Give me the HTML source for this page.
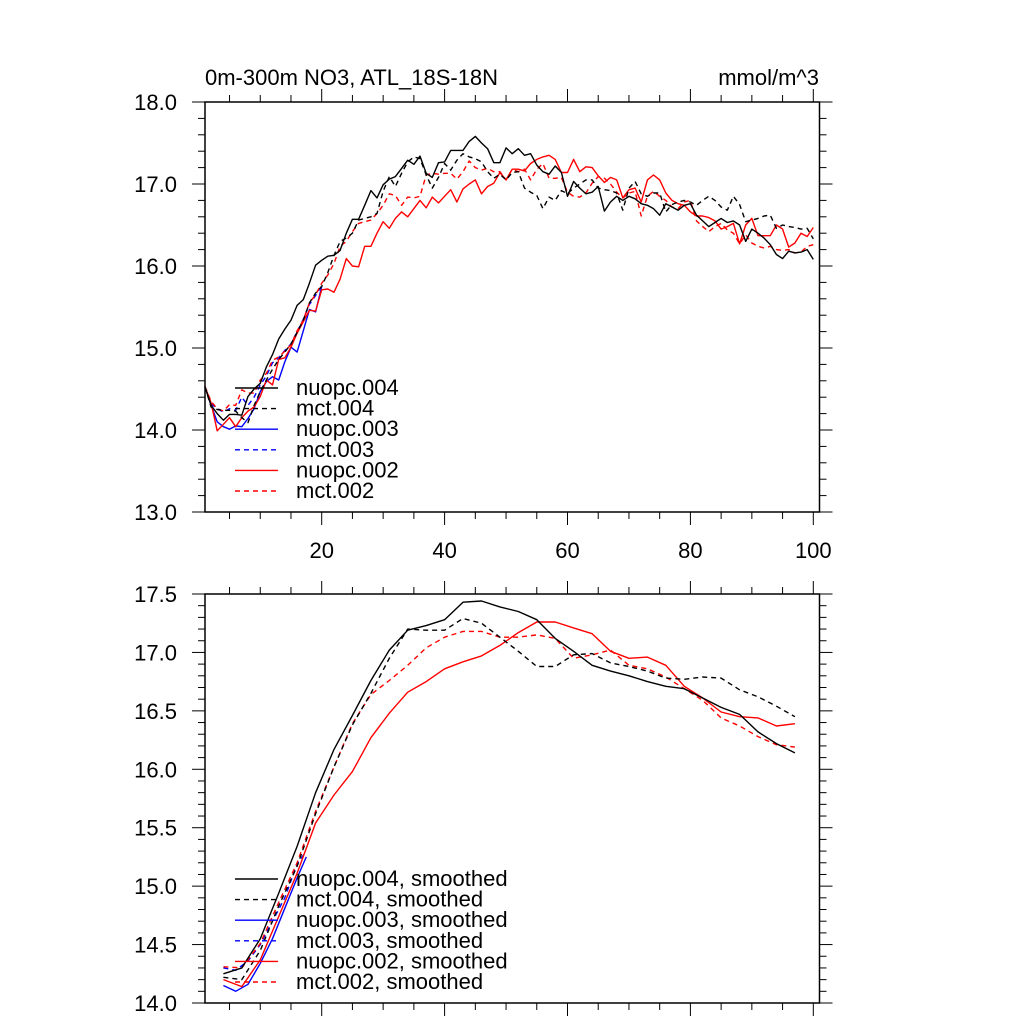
<!DOCTYPE html>
<html><head><meta charset="utf-8"><style>
body{margin:0;background:#fff;}
svg{display:block;font-family:"Liberation Sans",sans-serif;}
</style></head><body>
<svg id="chart" width="1024" height="1024" viewBox="0 0 1024 1024" xmlns="http://www.w3.org/2000/svg">
<rect width="1024" height="1024" fill="#fff"/>
<text x="205" y="85" font-size="22">0m-300m NO3, ATL_18S-18N</text>
<text x="819" y="85" font-size="22" text-anchor="end">mmol/m^3</text>
</svg>
<script>
// ---- data: top panel (raw) ----
const nuopc004 = [14.53,14.30,14.20,14.12,14.19,14.19,14.18,14.41,14.50,14.57,14.77,14.92,15.11,15.23,15.34,15.52,15.59,15.79,16.01,16.07,16.12,16.13,16.19,16.40,16.57,16.57,16.74,16.92,16.83,16.99,17.06,17.09,17.19,17.29,17.24,17.34,17.13,17.08,17.26,17.27,17.41,17.41,17.41,17.52,17.58,17.50,17.43,17.26,17.26,17.44,17.37,17.43,17.35,17.37,17.23,17.15,17.12,17.22,17.14,16.85,17.03,16.95,16.88,16.90,16.97,16.67,16.78,16.85,16.80,16.85,16.82,16.76,16.74,16.70,16.62,16.76,16.72,16.68,16.74,16.76,16.62,16.55,16.48,16.53,16.58,16.53,16.55,16.50,16.30,16.45,16.40,16.34,16.26,16.14,16.09,16.18,16.16,16.17,16.20,16.08];
const mct004 = [14.53,14.28,14.25,14.24,14.24,14.23,14.15,14.09,14.30,14.47,14.61,14.74,14.86,14.95,15.05,15.19,15.34,15.55,15.67,15.75,15.92,16.13,16.30,16.34,16.40,16.56,16.58,16.60,16.64,16.91,17.09,16.97,17.13,17.27,17.33,17.31,17.11,16.95,17.08,17.25,17.17,17.29,17.37,17.33,17.31,17.27,17.15,17.07,17.12,17.05,17.14,17.15,16.95,16.90,16.86,16.70,16.84,16.80,16.92,16.88,16.95,17.00,17.05,17.05,16.95,16.93,16.92,16.89,16.68,16.95,17.03,16.88,16.85,16.89,16.89,16.66,16.75,16.78,16.80,16.78,16.74,16.80,16.85,16.80,16.72,16.68,16.85,16.75,16.54,16.56,16.58,16.61,16.62,16.46,16.50,16.48,16.47,16.45,16.46,16.33];
const nuopc003 = [14.53,14.30,14.10,14.04,14.01,14.05,14.04,14.14,14.26,14.47,14.59,14.65,14.61,14.83,15.01,14.95,15.21,15.47,15.44,15.75];
const mct003 = [14.53,14.32,14.26,14.22,14.26,14.24,14.40,14.30,14.40,14.55,14.66,14.82,14.88,14.97,15.05,15.20,15.35,15.53,15.64,15.76];
const nuopc002 = [14.53,14.33,13.99,14.07,14.15,14.04,14.15,14.23,14.28,14.41,14.61,14.55,14.86,14.88,15.01,15.18,15.32,15.46,15.45,15.71,15.72,15.68,15.84,16.09,16.00,15.99,16.24,16.24,16.40,16.54,16.46,16.58,16.66,16.60,16.70,16.80,16.71,16.84,16.77,16.85,16.93,16.78,16.94,17.00,17.05,16.88,16.97,17.01,17.14,17.05,17.18,17.18,17.16,17.25,17.30,17.33,17.35,17.30,17.14,17.14,17.30,17.15,17.21,17.20,17.10,17.02,17.08,17.05,16.83,16.93,16.95,16.78,17.05,17.11,17.05,16.89,16.80,16.76,16.74,16.66,16.61,16.61,16.59,16.55,16.45,16.48,16.52,16.27,16.50,16.58,16.37,16.37,16.37,16.50,16.45,16.23,16.28,16.40,16.36,16.47];
const mct002 = [14.53,14.35,14.26,14.23,14.31,14.30,14.49,14.45,14.45,14.61,14.69,14.85,14.89,14.96,15.04,15.21,15.34,15.55,15.65,15.79,15.89,16.03,16.24,16.30,16.42,16.52,16.54,16.56,16.64,16.74,16.88,16.86,16.74,16.84,16.83,16.85,17.11,17.13,17.12,17.13,17.13,17.06,17.15,17.28,17.20,17.17,17.19,17.15,17.15,17.05,17.18,17.15,17.18,17.05,17.18,17.25,17.07,17.07,17.08,16.90,16.85,16.84,16.89,17.01,17.09,17.07,17.00,16.90,16.83,16.89,16.91,16.61,16.85,16.91,16.85,16.80,16.72,16.70,16.78,16.80,16.55,16.48,16.42,16.48,16.52,16.44,16.40,16.27,16.38,16.28,16.24,16.22,16.24,16.20,16.19,16.20,16.16,16.17,16.24,16.26];
// ---- data: bottom panel (smoothed) ----
const smoothX = [4,7,10,13,16,19,22,25,28,31,34,37,40,43,46,49,52,55,58,61,64,67,70,73,76,79,82,85,88,91,94,97];
const sNuopc004 = [14.25,14.30,14.55,14.94,15.34,15.80,16.17,16.46,16.76,17.02,17.19,17.23,17.28,17.43,17.44,17.39,17.35,17.28,17.12,17.01,16.89,16.84,16.80,16.75,16.71,16.69,16.61,16.53,16.47,16.32,16.22,16.14];
const sMct004 = [14.22,14.20,14.45,14.83,15.17,15.62,16.02,16.38,16.65,16.95,17.20,17.19,17.19,17.29,17.25,17.13,17.01,16.88,16.88,16.98,16.99,16.91,16.88,16.84,16.78,16.77,16.79,16.78,16.68,16.62,16.54,16.45];
const sNuopc002 = [14.20,14.14,14.37,14.74,15.11,15.54,15.78,15.98,16.27,16.48,16.66,16.75,16.86,16.92,16.97,17.06,17.17,17.26,17.26,17.21,17.16,17.01,16.95,16.96,16.89,16.71,16.61,16.49,16.45,16.44,16.37,16.39];
const sMct002 = [14.31,14.30,14.51,14.86,15.20,15.64,16.02,16.39,16.64,16.76,16.89,17.04,17.13,17.18,17.18,17.13,17.13,17.15,17.12,16.95,16.98,17.02,16.89,16.86,16.79,16.69,16.59,16.44,16.37,16.28,16.21,16.19];
const smooth003X = [4,6,8,10,12,14,16,17.5];
const sNuopc003 = [14.15,14.10,14.16,14.34,14.55,14.81,15.07,15.25];
const sMct003 = [14.30,14.28,14.36,14.50,14.70,14.90,15.19,15.30];
const topYTicks = ["13.0","14.0","15.0","16.0","17.0","18.0"];
const botYTicks = ["14.0","14.5","15.0","15.5","16.0","16.5","17.0","17.5"];
const xTickLabels = ["20","40","60","80","100"];
const legendTop = ["nuopc.004","mct.004","nuopc.003","mct.003","nuopc.002","mct.002"];
const legendBot = ["nuopc.004, smoothed","mct.004, smoothed","nuopc.003, smoothed","mct.003, smoothed","nuopc.002, smoothed","mct.002, smoothed"];

const svg = document.getElementById('chart');
const NS = 'http://www.w3.org/2000/svg';
function mk(tag, attrs){const e=document.createElementNS(NS,tag);for(const k in attrs)e.setAttribute(k,attrs[k]);svg.appendChild(e);return e;}
const L=205,R=819.5;
const xs = v => 198.8 + 6.145*v;
const panels = [
 {name:'top', T:102, B:512, y0:13, y1:18, minor:0.2, ticks:topYTicks, xlabels:true},
 {name:'bottom', T:594, B:1003, y0:14, y1:17.5, minor:0.1, ticks:botYTicks, xlabels:false}
];
panels.forEach(p=>{
  p.ys = v => p.B - (v-p.y0)/(p.y1-p.y0)*(p.B-p.T);
  let f=mk('rect',{x:L,y:p.T,width:R-L,height:p.B-p.T,fill:'none',stroke:'#000','stroke-width':1.5});
  
  
  const n=Math.round((p.y1-p.y0)/p.minor);
  const mstep = p.name==='top'?1:0.5;
  for(let i=0;i<=n;i++){
    const v=p.y0+i*p.minor, y=p.ys(v);
    const major = Math.abs((v-p.y0)/mstep - Math.round((v-p.y0)/mstep))<1e-6;
    const len = major?13:7;
    let t1=mk('line',{x1:L-len,x2:L,y1:y,y2:y,stroke:'#000','stroke-width':1});
    
    
    let t2=mk('line',{x1:R,x2:R+len,y1:y,y2:y,stroke:'#000','stroke-width':1});
    
    
  }
  p.ticks.forEach(s=>{
    const t=mk('text',{x:177,y:p.ys(parseFloat(s))+8,'font-size':22,'text-anchor':'end'});
    t.textContent=s;
    
    
  });
  for(let v=5;v<=100;v+=5){
    const x=xs(v), major=v%20===0, len=major?13:7;
    let a=mk('line',{x1:x,x2:x,y1:p.B,y2:p.B+len,stroke:'#000','stroke-width':1});
    
    
    let b=mk('line',{x1:x,x2:x,y1:p.T-len,y2:p.T,stroke:'#000','stroke-width':1});
    
    
  }
  if(p.xlabels){
    xTickLabels.forEach(s=>{
      const t=mk('text',{x:xs(parseFloat(s)),y:558,'font-size':22,'text-anchor':'middle'});
      t.textContent=s;
      
      
    });
  }
});
function series(p, xv, yv, color, dashed, name){
  const d = yv.map((v,i)=>(i?'L':'M')+xs(xv[i]).toFixed(1)+','+p.ys(v).toFixed(1)).join('');
  const e=mk('path',{d:d,fill:'none',stroke:color,'stroke-width':1.4,'stroke-dasharray':dashed?'5,4':'none','stroke-linejoin':'round'});
  
  
}
const idx = n => Array.from({length:n},(_,i)=>i+1);
const P0=panels[0], P1=panels[1];
series(P0, idx(20), mct003, '#0000ff', true, 'series-mct-003');
series(P0, idx(20), nuopc003, '#0000ff', false, 'series-nuopc-003');
series(P0, idx(100), nuopc002, '#ff0000', false, 'series-nuopc-002');
series(P0, idx(100), mct002, '#ff0000', true, 'series-mct-002');
series(P0, idx(100), mct004, '#000000', true, 'series-mct-004');
series(P0, idx(100), nuopc004, '#000000', false, 'series-nuopc-004');
series(P1, smooth003X, sMct003, '#0000ff', true, 'series-mct-003-smoothed');
series(P1, smooth003X, sNuopc003, '#0000ff', false, 'series-nuopc-003-smoothed');
series(P1, smoothX, sNuopc002, '#ff0000', false, 'series-nuopc-002-smoothed');
series(P1, smoothX, sMct002, '#ff0000', true, 'series-mct-002-smoothed');
series(P1, smoothX, sMct004, '#000000', true, 'series-mct-004-smoothed');
series(P1, smoothX, sNuopc004, '#000000', false, 'series-nuopc-004-smoothed');
const lcol=['#000','#000','#0000ff','#0000ff','#ff0000','#ff0000'];
function legend(labels, y0, step, pname){
  labels.forEach((s,i)=>{
    const y=y0+i*step;
    const l=mk('line',{x1:235,x2:278,y1:y,y2:y,stroke:lcol[i],'stroke-width':1.4,'stroke-dasharray':i%2?'5,4':'none'});
    
    
    const t=mk('text',{x:296,y:y+7,'font-size':22});
    t.textContent=s;
    
    
  });
}
legend(legendTop, 388, 20.6, 'top');
legend(legendBot, 879, 20.6, 'bottom');
</script>
</body></html>
